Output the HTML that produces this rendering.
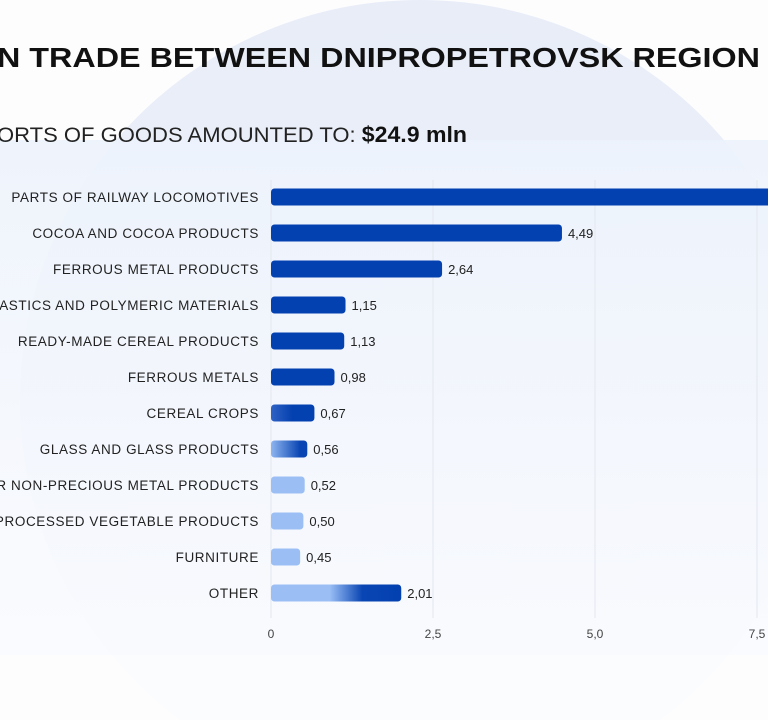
<!DOCTYPE html>
<html><head><meta charset="utf-8"><style>
html,body{margin:0;padding:0;width:768px;height:720px;overflow:hidden;background:#fff;font-family:"Liberation Sans",sans-serif}
svg{display:block}
</style></head><body>
<svg width="768" height="720" viewBox="0 0 768 720" xmlns="http://www.w3.org/2000/svg">
<defs>
<linearGradient id="bgc" x1="0" y1="0" x2="0" y2="1"><stop offset="0" stop-color="#e8edf8"/><stop offset="1" stop-color="#f1f4fb"/></linearGradient>
<linearGradient id="panel" x1="0" y1="0" x2="0" y2="1"><stop offset="0" stop-color="#edf3fc"/><stop offset="1" stop-color="#fafbfe"/></linearGradient>
<linearGradient id="g1" x1="0" y1="0" x2="1" y2="0"><stop offset="0" stop-color="#2f62c4"/><stop offset="0.5" stop-color="#0340b0"/></linearGradient>
<linearGradient id="g2" x1="0" y1="0" x2="1" y2="0"><stop offset="0" stop-color="#8fb5f0"/><stop offset="0.8" stop-color="#0a46b3"/></linearGradient>
<linearGradient id="g3" x1="0" y1="0" x2="1" y2="0"><stop offset="0" stop-color="#9bbff5"/><stop offset="0.45" stop-color="#9bbff5"/><stop offset="0.7" stop-color="#0a46b3"/><stop offset="1" stop-color="#0340b0"/></linearGradient>
</defs>
<rect width="768" height="720" fill="#fdfdfe"/>
<circle cx="420" cy="400" r="400" fill="url(#bgc)"/>
<rect x="0" y="140" width="768" height="515" fill="url(#panel)" opacity="0.9"/>
<rect x="0" y="655" width="768" height="65" fill="#fdfdfe" opacity="0.85"/>
<text x="-3" y="67" font-size="28" font-weight="bold" fill="#111" textLength="763" lengthAdjust="spacingAndGlyphs">N TRADE BETWEEN DNIPROPETROVSK REGION</text>
<text x="-3" y="142" font-size="21" fill="#222" textLength="470" lengthAdjust="spacingAndGlyphs">ORTS OF GOODS AMOUNTED TO: <tspan font-weight="bold" font-size="22" fill="#111">$24.9 mln</tspan></text>
<g id="plot"></g>
</svg>
<script>
const categories=["PARTS OF RAILWAY LOCOMOTIVES","COCOA AND COCOA PRODUCTS","FERROUS METAL PRODUCTS","PLASTICS AND POLYMERIC MATERIALS","READY-MADE CEREAL PRODUCTS","FERROUS METALS","CEREAL CROPS","GLASS AND GLASS PRODUCTS","OTHER NON-PRECIOUS METAL PRODUCTS","PROCESSED VEGETABLE PRODUCTS","FURNITURE","OTHER"];
const values=[8.5,4.49,2.64,1.15,1.13,0.98,0.67,0.56,0.52,0.50,0.45,2.01];
const valueLabels=["8,50","4,49","2,64","1,15","1,13","0,98","0,67","0,56","0,52","0,50","0,45","2,01"];
const ticks=[0,2.5,5.0,7.5];
const tickLabels=["0","2,5","5,0","7,5"];
const fills=["#0340b0","#0340b0","#0340b0","#0340b0","#0340b0","#0340b0","url(#g1)","url(#g2)","#9bbff5","#9bbff5","#9bbff5","url(#g3)"];
const NS="http://www.w3.org/2000/svg";
const g=document.getElementById('plot');
const x0=271,pxPer=64.8,y0=197,step=36,bh=17;
const xs=v=>x0+v*pxPer;
const ys=i=>y0+i*step;
function mk(t,a){const e=document.createElementNS(NS,t);for(const k in a)e.setAttribute(k,a[k]);g.appendChild(e);return e;}
ticks.forEach((t,i)=>{
 const l=mk('line',{x1:xs(t),x2:xs(t),y1:180,y2:618,stroke:'#e3e7ee','stroke-width':1});
 
 
 const tx=mk('text',{x:xs(t),y:638,'text-anchor':'middle','font-size':12,fill:'#444'});
 tx.textContent=tickLabels[i];
 
 
});
categories.forEach((c,i)=>{
 const y=ys(i);
 const lab=mk('text',{x:259,y:y+5,'text-anchor':'end','font-size':13.5,fill:'#222','letter-spacing':'0.6'});
 lab.textContent=c;
 
 
 const w=Math.max(xs(values[i])-x0,4);
 const r=mk('rect',{x:x0,y:y-bh/2,width:w,height:bh,rx:3.5,fill:fills[i]});
 
 
 const vl=mk('text',{x:x0+w+6,y:y+5,'font-size':13,fill:'#222'});
 vl.textContent=valueLabels[i];
 
 
});
</script>
</body></html>
